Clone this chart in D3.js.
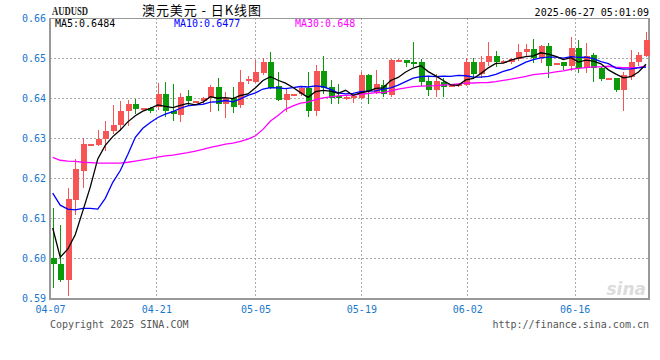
<!DOCTYPE html>
<html><head><meta charset="utf-8">
<script src="https://cdn.jsdelivr.net/npm/d3@7/dist/d3.min.js"></script>
<style>body{margin:0;background:#fff}svg{display:block}</style>
</head><body>
<svg id="c" width="660" height="360"></svg>
<script>
// ---- data ----
const symbol = "AUDUSD";
const title = "澳元美元 - 日K线图";
const stamp = "2025-06-27 05:01:09";
const opens  = [0.6002,0.5987,0.5946,0.6146,0.6219,0.6285,0.6284,0.6298,0.6319,0.6332,
                0.6369,0.6386,0.6375,0.6375,0.6377,0.6411,0.6369,0.6358,0.6406,0.6393,
                0.6392,0.6400,0.6429,0.6385,0.6401,0.6382,0.6447,0.6441,0.6462,0.6490,
                0.6431,0.6396,0.6410,0.6410,0.6425,0.6367,0.6468,0.6429,0.6406,0.6400,
                0.6400,0.6401,0.6458,0.6416,0.6433,0.6408,0.6496,0.6496,0.6491,0.6489,
                0.6443,0.6421,0.6441,0.6432,0.6431,0.6433,0.6489,0.6461,0.6489,0.6504,
                0.6493,0.6489,0.6497,0.6514,0.6523,0.6500,0.6531,0.6487,0.6489,0.6481,
                0.6526,0.6475,0.6508,0.6475,0.6450,0.6451,0.6421,0.6454,0.6489,0.6505];
const highs  = [0.6127,0.6084,0.6177,0.6249,0.6300,0.6286,0.6321,0.6343,0.6383,0.6394,
                0.6396,0.6398,0.6376,0.6377,0.6439,0.6441,0.6435,0.6412,0.6421,0.6394,
                0.6404,0.6433,0.6451,0.6416,0.6429,0.6471,0.6455,0.6495,0.6501,0.6515,
                0.6465,0.6425,0.6411,0.6430,0.6464,0.6483,0.6504,0.6446,0.6436,0.6406,
                0.6405,0.6465,0.6461,0.6471,0.6446,0.6497,0.6497,0.6496,0.6539,0.6497,
                0.6454,0.6461,0.6450,0.6433,0.6436,0.6500,0.6500,0.6505,0.6540,0.6518,
                0.6494,0.6499,0.6535,0.6535,0.6547,0.6533,0.6537,0.6488,0.6491,0.6553,
                0.6545,0.6538,0.6513,0.6477,0.6451,0.6451,0.6464,0.6520,0.6515,0.6566];
const lows   = [0.5928,0.5943,0.5909,0.6111,0.6178,0.6284,0.6284,0.6271,0.6314,0.6320,
                0.6332,0.6364,0.6374,0.6365,0.6373,0.6356,0.6346,0.6342,0.6383,0.6392,
                0.6388,0.6367,0.6371,0.6354,0.6365,0.6379,0.6438,0.6441,0.6460,0.6425,
                0.6396,0.6367,0.6409,0.6408,0.6356,0.6358,0.6412,0.6389,0.6388,0.6398,
                0.6390,0.6400,0.6389,0.6412,0.6406,0.6406,0.6495,0.6481,0.6481,0.6433,
                0.6408,0.6406,0.6406,0.6431,0.6430,0.6433,0.6450,0.6454,0.6483,0.6479,
                0.6492,0.6487,0.6496,0.6504,0.6491,0.6491,0.6454,0.6486,0.6473,0.6469,
                0.6464,0.6464,0.6444,0.6446,0.6449,0.6419,0.6371,0.6448,0.6483,0.6505];
const closes = [0.5985,0.5946,0.6149,0.6224,0.6286,0.6285,0.6298,0.6318,0.6333,0.6369,
                0.6386,0.6374,0.6375,0.6369,0.6411,0.6367,0.6360,0.6404,0.6392,0.6393,
                0.6401,0.6428,0.6385,0.6400,0.6379,0.6441,0.6447,0.6464,0.6490,0.6426,
                0.6396,0.6411,0.6410,0.6426,0.6367,0.6468,0.6426,0.6400,0.6400,0.6404,
                0.6405,0.6458,0.6419,0.6436,0.6411,0.6496,0.6496,0.6487,0.6486,0.6441,
                0.6421,0.6443,0.6429,0.6432,0.6435,0.6489,0.6461,0.6489,0.6504,0.6491,
                0.6493,0.6497,0.6515,0.6523,0.6500,0.6531,0.6481,0.6487,0.6481,0.6526,
                0.6475,0.6505,0.6475,0.6448,0.6450,0.6421,0.6458,0.6490,0.6508,0.6545];
// moving-average values before enough in-window closes exist
const ma5Early  = [0.6076,0.6003,0.6023,0.6059];
const ma10Early = [0.6163,0.6133,0.6123,0.6121,0.6125,0.6125,0.6123,0.6150,0.6190];
const ma30Early = [0.6252,0.6245,0.6243,0.6242,0.6240,0.6239,0.6238,0.6238,0.6238,0.6238,
                   0.6240,0.6243,0.6246,0.6249,0.6253,0.6256,0.6258,0.6261,0.6264,0.6268,
                   0.6272,0.6277,0.6281,0.6285,0.6288,0.6292,0.6298,0.6306,0.6322];
const maNames  = ["MA5","MA10","MA30"];
const maLast   = ["0.6484","0.6477","0.648"];
const yTicks   = [0.59,0.60,0.61,0.62,0.63,0.64,0.65,0.66];
const xTickPos = [-0.36,13.8,27,41.1,55.2,69.5];
const xTickLabels = ["04-07","04-21","05-05","05-19","06-02","06-16"];

// ---- layout ----
const L = 50, R = 649, T = 18, B = 298.5;
const svg = d3.select("#c");
const x = d3.scaleLinear().domain([-0.36, 79.4]).range([L, R]);
const y = d3.scaleLinear().domain([0.59, 0.66]).range([B, T]);
const mono = "'DejaVu Sans Mono', monospace";
const blueTxt = "#1a78cc";

function movingAvg(n, early) {
  return closes.map((c, i) => i < n - 1 ? early[i] : d3.mean(closes.slice(i - n + 1, i + 1)));
}
const ma5 = movingAvg(5, ma5Early), ma10 = movingAvg(10, ma10Early), ma30 = movingAvg(30, ma30Early);

// grid
const grid = svg.append("g").attr("stroke", "#aaa").attr("stroke-dasharray", "2,2").attr("shape-rendering", "crispEdges");
yTicks.filter(v => v > 0.59 && v < 0.66).forEach(v => {
  grid.append("line").attr("x1", L).attr("x2", R).attr("y1", Math.round(y(v)) + 0.5).attr("y2", Math.round(y(v)) + 0.5);
});
xTickPos.filter(p => x(p) > L + 2).forEach(p => {
  grid.append("line").attr("y1", T).attr("y2", B).attr("x1", Math.round(x(p)) + 0.5).attr("x2", Math.round(x(p)) + 0.5);
});

// frame
svg.append("rect").attr("x", L).attr("y", T).attr("width", R - L).attr("height", B - T)
  .attr("fill", "none").attr("stroke", "#999").attr("stroke-width", 1).attr("shape-rendering", "crispEdges");
svg.append("path").attr("d", `M${L},${T} V${B} H${R} V${T}`).attr("fill", "none")
  .attr("stroke", "#999").attr("stroke-width", 2).attr("shape-rendering", "crispEdges");

// watermark
svg.append("text").attr("x", 646).attr("y", 295).attr("text-anchor", "end")
  .attr("font-family", "'DejaVu Sans', sans-serif").attr("font-style", "italic").attr("font-weight", "bold")
  .attr("font-size", 17).attr("fill", "#dcdcdc").text("sina");

// candles
const up = "#f75555", down = "#0a9a0a";
const cg = svg.append("g").attr("shape-rendering", "crispEdges");
closes.forEach((c, i) => {
  const o = opens[i], col = c >= o ? up : down;
  const cx = Math.round(x(i));
  cg.append("line").attr("x1", cx + 0.5).attr("x2", cx + 0.5)
    .attr("y1", Math.round(y(highs[i]))).attr("y2", Math.round(y(lows[i])) + 1)
    .attr("stroke", col).attr("stroke-width", 1);
  const yt = Math.round(y(Math.max(o, c))), yb = Math.round(y(Math.min(o, c)));
  cg.append("rect").attr("x", cx - 2).attr("y", yt).attr("width", 6)
    .attr("height", Math.max(2, yb - yt)).attr("fill", col);
});

// MA lines
const line = d3.line().x((d, i) => x(i)).y(d => y(d));
[[ma30, "#ff00ff"], [ma10, "#0000ff"], [ma5, "#000"]].forEach(([s, col]) => {
  svg.append("path").datum(s).attr("d", line).attr("fill", "none").attr("stroke", col).attr("stroke-width", 1.3);
});

// y axis labels
const ya = svg.append("g").attr("transform", `translate(${L - 2},0)`)
  .call(d3.axisLeft(y).tickValues(yTicks).tickFormat(d3.format(".2f")).tickSize(0).tickPadding(2));
ya.select(".domain").remove();
ya.selectAll("text").attr("font-family", mono).attr("font-size", 10).attr("fill", blueTxt);

// x axis labels
const xa = svg.append("g").attr("transform", `translate(0,${B + 2})`)
  .call(d3.axisBottom(x).tickValues(xTickPos).tickFormat((d, i) => xTickLabels[i]).tickSize(0).tickPadding(5));
xa.select(".domain").remove();
xa.selectAll("text").attr("font-family", mono).attr("font-size", 10).attr("fill", blueTxt);

// header
svg.append("text").attr("x", 52).attr("y", 15).attr("font-family", "'Liberation Serif', serif")
  .attr("font-weight", "bold").attr("font-size", 11.5).attr("textLength", 36).attr("lengthAdjust", "spacingAndGlyphs")
  .attr("fill", "#222").text(symbol);
svg.append("text").attr("x", 142).attr("y", 14.5).attr("font-family", "'Noto Sans CJK SC', sans-serif")
  .attr("font-size", 13).attr("textLength", 119).attr("lengthAdjust", "spacing")
  .attr("fill", "#000").text(title);
svg.append("text").attr("x", 649).attr("y", 15.5).attr("text-anchor", "end").attr("font-family", mono)
  .attr("font-size", 10).attr("fill", "#000").text(stamp);

// legend
const legX = [55, 174, 295], legCol = ["#000", "#0000ff", "#ff00ff"];
maNames.forEach((n, i) => {
  svg.append("text").attr("x", legX[i]).attr("y", 27).attr("font-family", mono).attr("font-size", 10)
    .attr("fill", legCol[i]).text(n + ":" + maLast[i]);
});

// footer
svg.append("text").attr("x", 50).attr("y", 328).attr("font-family", mono).attr("font-size", 10)
  .attr("fill", "#555").text("Copyright 2025 SINA.COM");
svg.append("text").attr("x", 649).attr("y", 328).attr("text-anchor", "end").attr("font-family", mono)
  .attr("font-size", 10).attr("fill", "#555").text("http://finance.sina.com.cn");
</script>
</body></html>
